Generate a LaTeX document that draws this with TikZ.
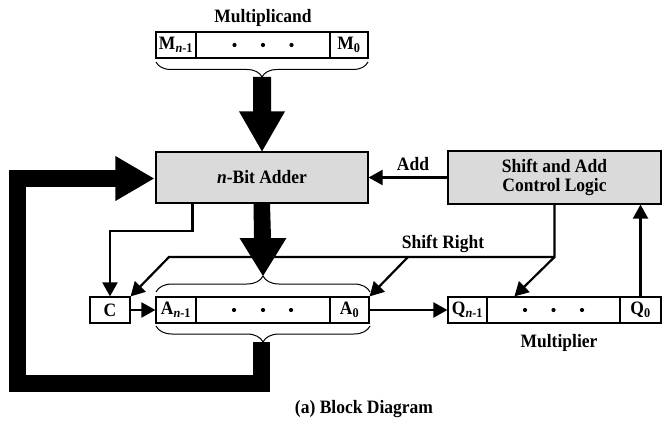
\documentclass[tikz,border=0pt]{standalone}
\usepackage{fontspec}
\setmainfont{Liberation Serif}
\usetikzlibrary{arrows.meta,decorations.pathreplacing,calc}
\definecolor{boxgray}{RGB}{218,218,218}
\newcommand{\tallt}[1]{\scalebox{1}[1.08]{#1}}
\begin{document}
\begin{tikzpicture}[x=1pt,y=-1pt,
  lbl/.style={font=\fontsize{17.5}{21}\selectfont\bfseries, inner sep=0pt},
  cell/.style={draw, line width=1.2pt, minimum height=26pt, inner sep=0pt, font=\fontsize{17.5}{21}\selectfont\bfseries},
  blk/.style={draw, line width=1.2pt, fill=boxgray, inner sep=0pt, align=center, font=\fontsize{17.5}{21}\selectfont\bfseries},
  conn/.style={line width=2.2pt, -{Triangle[length=14pt,width=15pt]}},
  brc/.style={decorate, line width=1pt},
  bigbar/.style={line width=17pt, line join=miter}]
\useasboundingbox (0,0) rectangle (668,430);

% Multiplicand register
\node[lbl] (mlabel) at (263,18) {\tallt{Multiplicand}};
\node[cell, minimum width=40pt] (Mn) at (176,45) {\tallt{M\textsubscript{\textit{n}-1}}};
\node[cell, minimum width=134pt] (Md) at (263,45) {};
\node[cell, minimum width=38pt] (M0) at (349,45) {\tallt{M\textsubscript{0}}};
\foreach \d in {-28.5,0,28.5} \fill ($(Md.center)+(\d,0)$) circle (2.1pt);
\coordinate (mb1) at (156,62);
\coordinate (mb2) at (368,62);
\coordinate (mtip) at (262,77);
\draw[brc, decoration={brace, mirror, amplitude=15pt}] (mb1) -- (mb2);

% blocks
\node[blk, minimum width=212pt, minimum height=51pt] (adder) at (262,177.5) {\tallt{\textit{n}-Bit Adder}};
\node[blk, minimum width=213pt, minimum height=53pt] (ctrl) at (554.5,177.5) {\tallt{Shift and Add}\\[-2pt]\tallt{Control Logic}};

% big arrow multiplicand -> adder
\fill ($(mtip)+(-9,0)$) -- ($(adder.north)+(-9,-40)$) -- ($(adder.north)+(-23,-40)$) -- (adder.north)
  -- ($(adder.north)+(23,-40)$) -- ($(adder.north)+(9,-40)$) -- ($(mtip)+(9,0)$) -- cycle;

% registers
\node[cell, minimum width=40pt] (C) at (110,310) {\tallt{C}};
\node[cell, minimum width=40pt] (An) at (176,310) {\tallt{A\textsubscript{\textit{n}-1}}};
\node[cell, minimum width=134pt] (Ad) at (263,310) {};
\node[cell, minimum width=39pt] (A0) at (349.5,310) {\tallt{A\textsubscript{0}}};
\foreach \d in {-29,0,28} \fill ($(Ad.center)+(\d,0)$) circle (2.1pt);
\node[cell, minimum width=39pt] (Qn) at (467.5,310) {\tallt{Q\textsubscript{\textit{n}-1}}};
\node[cell, minimum width=133pt] (Qd) at (553.5,310) {};
\node[cell, minimum width=41pt] (Q0) at (640.5,310) {\tallt{Q\textsubscript{0}}};
\foreach \d in {-28.5,0,28.5} \fill ($(Qd.center)+(\d,0)$) circle (2.1pt);
\node[lbl] (mult) at (559,343) {\tallt{Multiplier}};

% braces around A
\coordinate (at1) at (156,292);
\coordinate (at2) at (370,292);
\coordinate (atip) at (263,276);
\draw[brc, decoration={brace, amplitude=16pt}] (at1) -- (at2);
\coordinate (ab1) at (156,326);
\coordinate (ab2) at (370,326);
\coordinate (abtip) at (261.5,342);
\draw[brc, decoration={brace, mirror, amplitude=16pt}] (ab1) -- (ab2);

% big arrow adder -> A
\fill ($(adder.south)+(-8.5,0)$) -- ($(atip)+(-9,-38)$) -- ($(atip)+(-23.5,-38)$) -- (atip)
  -- ($(atip)+(23.5,-38)$) -- ($(atip)+(8,-38)$) -- ($(adder.south)+(8,0)$) -- cycle;

% big feedback loop A -> adder
\coordinate (lp1) at (261.5,383);
\coordinate (lp2) at (17,383);
\coordinate (lp3) at (17,178.5);
\coordinate (lp4) at (118,178.5);
\draw[bigbar] (abtip) -- (lp1) -- (lp2) -- (lp3) -- (lp4);
\fill ($(adder.west)+(-40,-21.5)$) -- ($(adder.west)+(-1.5,1)$) -- ($(adder.west)+(-40,23.5)$) -- cycle;

% thin connectors
\draw[conn] (ctrl.west) -- (adder.east);
\node[lbl] (addl) at (413,164) {\tallt{Add}};
\draw[conn] ($(adder.south west)+(37,0)$) -- ++(0,27) -| (C.north);
\coordinate (srR) at (554.5,257);
\coordinate (srM) at (408,257);
\coordinate (srL) at (169,257);
\node[lbl] (srl) at (443,244) {\tallt{Shift Right}};
\draw[conn] (ctrl.south) -- (srR) -- ($(Qd.north west)+(28,0)$);
\draw[conn] (srR) -- (srL) -- (C.north east);
\draw[conn] (srM) -- (A0.north east);
\draw[conn] (Q0.north) -- (Q0.north |- ctrl.south);
\draw[conn] (C.east) -- (An.west);
\draw[conn] (A0.east) -- (Qn.west);

% caption
\node[lbl] (cap) at (364,409) {\tallt{(a) Block Diagram}};
\end{tikzpicture}
\end{document}
